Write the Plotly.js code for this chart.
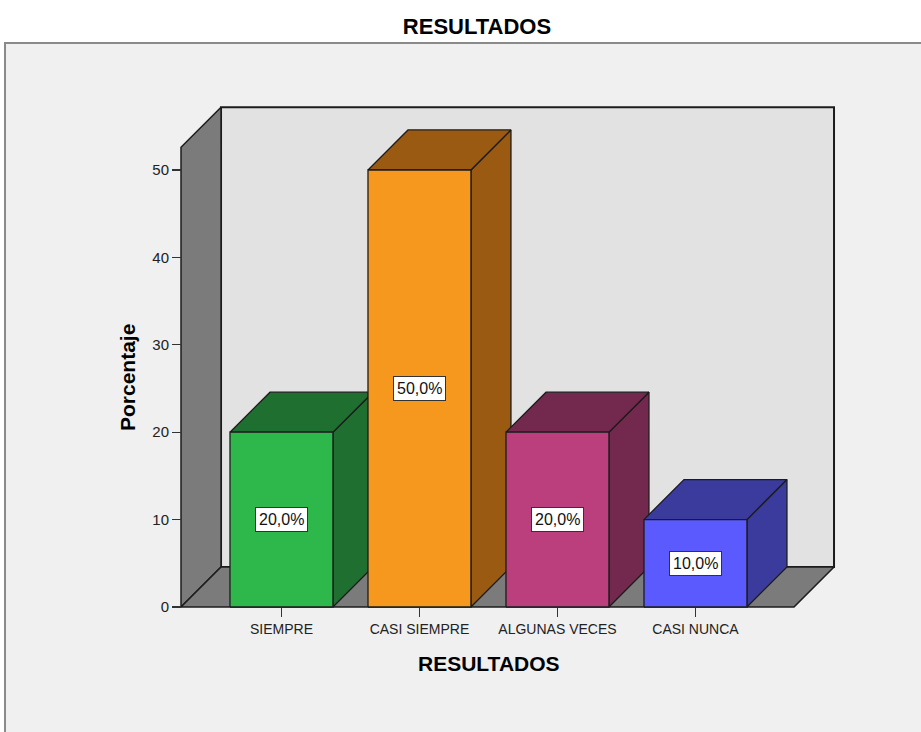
<!DOCTYPE html>
<html>
<head>
<meta charset="utf-8">
<script src="https://cdn.plot.ly/plotly-3.0.1.min.js"></script>
<style>
  html, body { margin: 0; padding: 0; background: #ffffff; }
  #chart { width: 921px; height: 732px; }
</style>
</head>
<body>
<div id="chart"></div>
<script>
// Survey results (percentage of respondents per answer)
const categories = ['SIEMPRE', 'CASI SIEMPRE', 'ALGUNAS VECES', 'CASI NUNCA'];
const percentages = [20, 50, 20, 10];
const valueLabels = ['20,0%', '50,0%', '20,0%', '10,0%'];
const yTickValues = [0, 10, 20, 30, 40, 50];
const yTickLabels = ['0', '10', '20', '30', '40', '50'];

// Face colours: front face and shaded top/side faces
const frontColors = ['#2eb84b', '#f7981e', '#bb3f7c', '#5a5aff'];
const shadeColors = ['#1e6f30', '#9a5a12', '#73284d', '#3a3b9c'];

// Pseudo-3D geometry (in axis units)
const HALF = 0.373;      // half bar width
const DX = 0.29;         // depth offset along x
const DY = 4.58;         // depth offset along y
const X_MIN = -0.728;    // front-left corner of the box
const X_MAX = 4.004;     // back-right corner of the box
const WALL_TOP = 52.6;   // height of left wall front edge
const EDGE = '#1c1c1c';
const FONT = '"Liberation Sans", Arial, sans-serif';

function face(xs, ys, fill, width) {
  return {
    type: 'scatter', mode: 'lines',
    x: xs.concat([xs[0]]), y: ys.concat([ys[0]]),
    fill: 'toself', fillcolor: fill,
    line: { color: EDGE, width: width || 1.3 },
    hoverinfo: 'skip', showlegend: false
  };
}

const traces = [];
// back wall
traces.push(face([X_MIN + DX, X_MIN + DX, X_MAX, X_MAX],
                 [DY, WALL_TOP + DY, WALL_TOP + DY, DY], '#e2e2e2', 2));
// left wall
traces.push(face([X_MIN, X_MIN, X_MIN + DX, X_MIN + DX],
                 [0, WALL_TOP, WALL_TOP + DY, DY], '#7b7b7b', 1.5));
// floor
traces.push(face([X_MIN, X_MAX - DX, X_MAX, X_MIN + DX],
                 [0, 0, DY, DY], '#7b7b7b', 1.5));

// bars: side, top, then front face
categories.forEach((c, i) => {
  const v = percentages[i];
  const l = i - HALF, r = i + HALF;
  traces.push(face([r, r + DX, r + DX, r], [0, DY, v + DY, v], shadeColors[i]));
  traces.push(face([l, r, r + DX, l + DX], [v, v, v + DY, v + DY], shadeColors[i]));
  traces.push(face([l, r, r, l], [0, 0, v, v], frontColors[i]));
});

// plot-area placement
const L = 176, R = 81, T = 102, B = 121;
const W = 921 - L - R, H = 732 - T - B;
const PX_PER_CAT = 138, PX_PER_UNIT = 8.74;
const xRange = [X_MIN - (181 - L) / PX_PER_CAT, X_MIN + (921 - R - 181) / PX_PER_CAT];
const yRange = [-(611 - 607) / PX_PER_UNIT, (607 - T) / PX_PER_UNIT];

function px2paperX(px) { return (px - L) / W; }
function px2paperY(py) { return (732 - B - py) / H; }

const annotations = categories.map((c, i) => ({
  x: i, y: percentages[i] / 2, xref: 'x', yref: 'y',
  xanchor: 'center', yanchor: 'middle',
  text: valueLabels[i], showarrow: false,
  bgcolor: '#ffffff', bordercolor: '#333333', borderwidth: 1, borderpad: 3,
  font: { family: FONT, size: 16, color: '#111111' }
}));

annotations.push({
  x: px2paperX(127), y: px2paperY(378), xref: 'paper', yref: 'paper',
  xanchor: 'center', yanchor: 'middle',
  text: 'Porcentaje', textangle: -90, showarrow: false,
  font: { family: FONT, size: 21, color: '#000000', weight: 700 }
});
annotations.push({
  x: px2paperX(489), y: px2paperY(663), xref: 'paper', yref: 'paper',
  xanchor: 'center', yanchor: 'middle',
  text: 'RESULTADOS', showarrow: false,
  font: { family: FONT, size: 21, color: '#000000', weight: 700 }
});

const layout = {
  width: 921, height: 732,
  margin: { l: L, r: R, t: T, b: B, pad: 0 },
  paper_bgcolor: '#ffffff',
  plot_bgcolor: 'rgba(0,0,0,0)',
  showlegend: false,
  title: {
    text: 'RESULTADOS', xref: 'container', yref: 'container',
    x: 477 / 921, xanchor: 'center', y: 1 - 26 / 732, yanchor: 'middle',
    font: { family: FONT, size: 22, color: '#000000', weight: 700 }
  },
  xaxis: {
    range: xRange, fixedrange: true,
    anchor: 'free', position: px2paperY(607),
    tickmode: 'array', tickvals: categories.map((c, i) => i), ticktext: categories,
    ticks: 'outside', ticklen: 9, tickwidth: 1.3, tickcolor: '#333333',
    tickfont: { family: FONT, size: 14, color: '#222222' },
    showgrid: false, zeroline: false, showline: false
  },
  yaxis: {
    range: yRange, fixedrange: true,
    anchor: 'free', position: px2paperX(181),
    tickmode: 'array', tickvals: yTickValues, ticktext: yTickLabels,
    ticks: 'outside', ticklen: 9, tickwidth: 1.3, tickcolor: '#333333',
    tickfont: { family: FONT, size: 15, color: '#222222' },
    showgrid: false, zeroline: false, showline: false
  },
  shapes: [{
    type: 'rect', xref: 'paper', yref: 'paper', layer: 'below',
    x0: px2paperX(5), x1: px2paperX(940), y0: px2paperY(750), y1: px2paperY(43),
    fillcolor: '#f0f0f0', line: { color: '#8a8a8a', width: 2 }
  }],
  annotations: annotations
};

Plotly.newPlot('chart', traces, layout, { displayModeBar: false, staticPlot: true });
</script>
</body>
</html>
